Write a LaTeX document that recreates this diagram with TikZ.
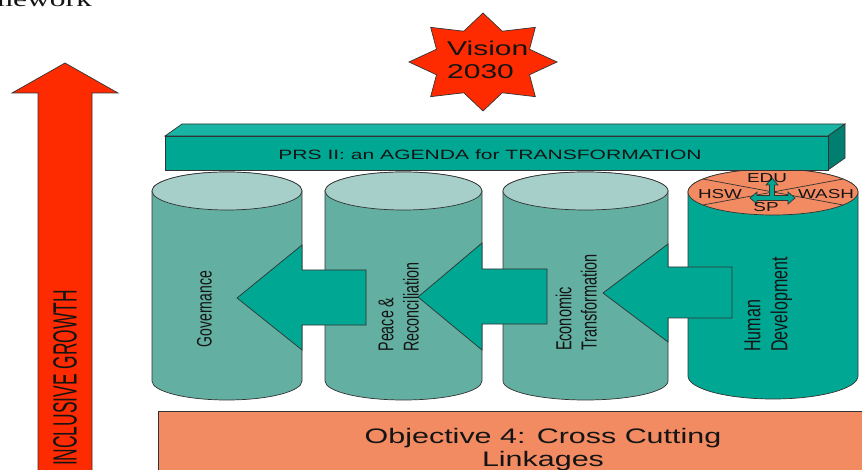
\documentclass[tikz,border=0pt]{standalone}
\usepackage{fontspec}
\usepackage{graphicx}
\setmainfont{Liberation Sans}
\newfontfamily\serifface{Liberation Serif}

\definecolor{edgegray}{HTML}{333333}
\definecolor{txt}{HTML}{141414}
\definecolor{vred}{HTML}{FF2B00}
\definecolor{tealA}{HTML}{00A793}
\definecolor{tealTop}{HTML}{18B4A4}
\definecolor{tealSide}{HTML}{007F70}
\definecolor{drumBody}{HTML}{63AFA1}
\definecolor{drumTop}{HTML}{A6CFCA}
\definecolor{salmon}{HTML}{F28B62}

% drum{cx}{rx}{top cy}{bottom cy}{ry}{body colour}{lid colour}
\newcommand{\drum}[7]{%
  \filldraw[fill=#6,edge] (#1-#2,#3) -- (#1-#2,#4)
    arc[start angle=180,end angle=360,x radius=#2pt,y radius=#5pt]
    -- (#1+#2,#3)
    arc[start angle=0,end angle=180,x radius=#2pt,y radius=#5pt] -- cycle;
  \filldraw[fill=#7,edge] (#1,#3) ellipse[x radius=#2pt,y radius=#5pt];}

\begin{document}
\begin{tikzpicture}[x=1pt,y=-1pt,
  edge/.style={draw=edgegray,line width=0.7pt},
  lbl/.style={inner sep=0pt,text=txt},
  blockarrow/.style={fill=tealA,edge}]
\useasboundingbox (0,0) rectangle (862,470);

% heading fragment
\node[lbl,anchor=base east] (head) at (92,7)
  {\scalebox{1.5}[1]{\serifface\fontsize{21}{24}\selectfont Framework}};

% growth arrow
\filldraw[fill=vred,edge] (65,63) -- (118,93) -- (92,93) -- (92,480)
  -- (38,480) -- (38,93) -- (12,93) -- cycle;
\node[lbl,rotate=90] (growth) at (65,378)
  {\scalebox{0.87}[1.68]{\fontsize{20}{24}\selectfont INCLUSIVE GROWTH}};

% vision star
\filldraw[fill=vred,edge] plot[variable=\t,samples at={0,...,15}]
  ({483+74*ifthenelse(mod(\t,2)==0,1,0.68)*cos(90+22.5*\t)},
   {62-49*ifthenelse(mod(\t,2)==0,1,0.68)*sin(90+22.5*\t)}) -- cycle;
\node[lbl,anchor=base west] (vision) at (447,56)
  {\scalebox{1.5}[1]{\fontsize{20}{23}\selectfont
   \begin{tabular}[t]{@{}l@{}}Vision\\2030\end{tabular}}};

% pillars
\drum{227}{75}{191}{381}{19}{drumBody}{drumTop}
\drum{403.5}{78.5}{191}{381}{19}{drumBody}{drumTop}
\drum{585.5}{82.5}{191}{381}{19}{drumBody}{drumTop}
\drum{773}{85}{192}{376}{23}{tealA}{salmon}

% sectors on the human development lid
\draw[edge] (703,179) -- (843,205);
\draw[edge] (703,205) -- (843,179);

% three-way arrow on the lid
\filldraw[fill=tealA,edge] (750,198) -- (757,192) -- (757,195.5) -- (769.5,195.5)
  -- (769.5,185) -- (766,185) -- (772,178) -- (778,185) -- (774.5,185)
  -- (774.5,195.5) -- (788,195.5) -- (788,192) -- (795,198) -- (788,204)
  -- (788,200.5) -- (757,200.5) -- (757,204) -- cycle;

% agenda bar
\filldraw[fill=tealTop,edge] (165,136) -- (182,124) -- (845,124) -- (828,136) -- cycle;
\filldraw[fill=tealSide,edge] (828,136) -- (845,124) -- (845,158) -- (828,170) -- cycle;
\filldraw[fill=tealA,edge] (165,136) rectangle (828,170);
\node[lbl] (prs) at (490,155)
  {\scalebox{1.56}[1]{\fontsize{13.5}{16}\selectfont PRS II: an AGENDA for TRANSFORMATION}};

% linking arrows between pillars
\filldraw[blockarrow] (237,298) -- (302,245) -- (302,270) -- (366,270)
  -- (366,325) -- (302,325) -- (302,350) -- cycle;
\filldraw[blockarrow] (418,297) -- (482,243) -- (482,269) -- (547,269)
  -- (547,324) -- (482,324) -- (482,350) -- cycle;
\filldraw[blockarrow] (603,293) -- (668,244) -- (668,267) -- (732,267)
  -- (732,318) -- (668,318) -- (668,342) -- cycle;

% cross-cutting base
\filldraw[fill=salmon,edge] (158,411) rectangle (940,490);
\node[lbl,anchor=base] (cross) at (543,443)
  {\scalebox{1.45}[1]{\fontsize{21}{23}\selectfont
   \begin{tabular}[t]{@{}c@{}}Objective 4: Cross Cutting\\Linkages\end{tabular}}};

% pillar labels
\node[lbl,rotate=90] (gov) at (204.5,309)
  {\scalebox{1}[1.5]{\fontsize{14}{17}\selectfont Governance}};
\node[lbl,rotate=90] (peace) at (401,307)
  {\scalebox{1}[1.5]{\fontsize{14.3}{16.7}\selectfont
   \begin{tabular}{@{}l@{}}Peace \&\\Reconciliation\end{tabular}}};
\node[lbl,rotate=90] (econ) at (579,302.5)
  {\scalebox{1}[1.5]{\fontsize{14.5}{16.7}\selectfont
   \begin{tabular}{@{}l@{}}Economic\\Transformation\end{tabular}}};
\node[lbl,rotate=90] (human) at (768.5,304.5)
  {\scalebox{1}[1.45]{\fontsize{16}{18.5}\selectfont
   \begin{tabular}{@{}l@{}}Human\\Development\end{tabular}}};

% lid sector labels
\node[lbl] (edu) at (767,178) {\scalebox{1.45}[1]{\fontsize{13}{15}\selectfont EDU}};
\node[lbl] (hsw) at (720,194) {\scalebox{1.45}[1]{\fontsize{13}{15}\selectfont HSW}};
\node[lbl] (wash) at (826,194) {\scalebox{1.45}[1]{\fontsize{13}{15}\selectfont WASH}};
\node[lbl] (sp) at (766,207) {\scalebox{1.45}[1]{\fontsize{13}{15}\selectfont SP}};
\end{tikzpicture}
\end{document}
